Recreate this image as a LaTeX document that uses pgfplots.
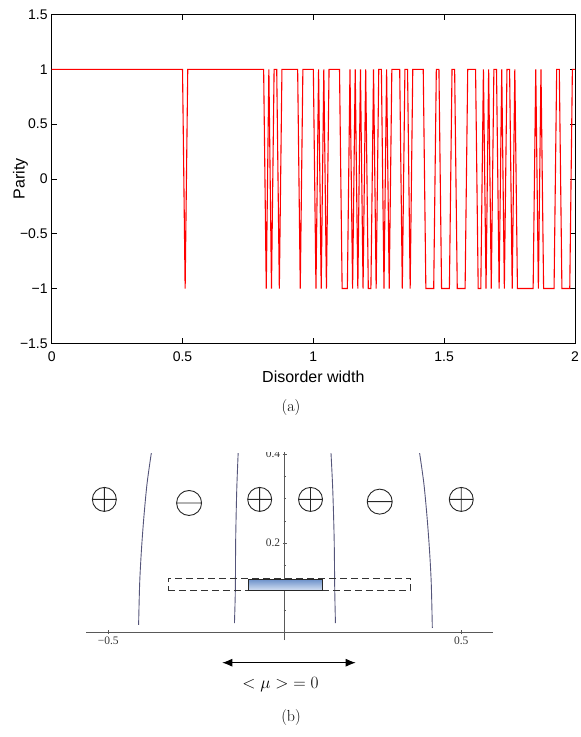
\documentclass[border=0pt]{standalone}
\usepackage{fontspec}
\usepackage{pgfplots}
\pgfplotsset{compat=1.18}
\usetikzlibrary{arrows.meta,plotmarks}
\newfontfamily\arial{Liberation Sans}
\newfontfamily\tms{Liberation Serif}
\definecolor{curve}{HTML}{55557A}
\definecolor{boxtop}{HTML}{6F93CB}
\definecolor{boxbot}{HTML}{D3E0F2}
% circle with a horizontal bar (no stock mark for it)
\pgfdeclareplotmark{ominus}{%
  \pgfpathcircle{\pgfpointorigin}{\pgfplotmarksize}%
  \pgfpathmoveto{\pgfqpoint{-\pgfplotmarksize}{0pt}}%
  \pgfpathlineto{\pgfqpoint{\pgfplotmarksize}{0pt}}%
  \pgfusepathqstroke}
\begin{document}
\begin{tikzpicture}
\useasboundingbox (0,0) rectangle (581pt,-737pt);
% ---------- (a) parity vs disorder width ----------
\begin{axis}[at={(51.7pt,-343.3pt)}, anchor=south west, scale only axis,
  width=523.3pt, height=328.8pt,
  xmin=0, xmax=2, ymin=-1.5, ymax=1.5,
  xtick={0,0.5,1,1.5,2}, xticklabels={0,0.5,1,1.5,2},
  ytick={-1.5,-1,-0.5,0,0.5,1,1.5}, yticklabels={−1.5,−1,−0.5,0,0.5,1,1.5},
  tick align=inside, major tick length=5pt, tick style={black, line width=0.6pt},
  axis line style={black, line width=0.8pt},
  ticklabel style={font=\arial\fontsize{14}{16}\selectfont},
  xticklabel style={yshift=-5pt}, yticklabel style={xshift=-0.5pt},
  xlabel={Disorder width}, ylabel={Parity},
  label style={font=\arial\fontsize{16}{18}\selectfont},
  xlabel style={at={(axis description cs:0.5,-0.1025)}, anchor=center},
  ylabel style={at={(axis description cs:-0.0596,0.5)}, anchor=center}]
\addplot[red, line width=1.1pt] coordinates {
(0,1) (0.50,1) (0.51,-1) (0.52,1) (0.81,1) (0.82,-1) (0.83,1) (0.84,-1) (0.85,1) (0.86,1)
(0.87,-1) (0.88,1) (0.94,1) (0.95,-1) (0.96,1) (1.00,1) (1.01,-1) (1.02,1) (1.03,-1) (1.04,1)
(1.05,-1) (1.06,1) (1.10,1) (1.11,-1) (1.13,-1) (1.14,1) (1.15,-1) (1.16,1) (1.17,-1) (1.18,1)
(1.19,-1) (1.20,1) (1.21,-1) (1.22,-1) (1.23,1) (1.24,-1) (1.25,1) (1.26,1) (1.27,-1) (1.28,1)
(1.29,-1) (1.30,1) (1.33,1) (1.34,-1) (1.35,1) (1.36,1) (1.37,-1) (1.38,1) (1.42,1) (1.43,-1)
(1.46,-1) (1.47,1) (1.48,1) (1.49,-1) (1.52,-1) (1.53,1) (1.54,1) (1.55,-1) (1.58,-1) (1.59,1)
(1.62,1) (1.63,-1) (1.64,-1) (1.65,1) (1.66,-1) (1.67,1) (1.68,-1) (1.69,1) (1.70,1) (1.71,-1)
(1.72,1) (1.73,-1) (1.74,1) (1.75,1) (1.76,-1) (1.77,1) (1.78,-1) (1.84,-1) (1.85,1) (1.86,-1)
(1.87,1) (1.88,-1) (1.92,-1) (1.93,1) (1.94,1) (1.95,-1) (1.98,-1) (1.99,1) (2.00,1)};
\end{axis}
\node[font=\fontsize{16}{18}\selectfont] at (291pt,-408pt) {(a)};
% ---------- (b) sketch ----------
\begin{scope}
\clip (0,-452pt) rectangle (581pt,-737pt);
\begin{axis}[at={(86pt,-640pt)}, anchor=south west, scale only axis,
  width=407.4pt, height=188.2pt,
  xmin=-0.563, xmax=0.591, ymin=-0.018, ymax=0.405,
  axis lines=middle, axis line style={-, draw=black!65, line width=0.7pt},
  xtick={-0.5,0.5}, xticklabels={−0.5,0.5},
  ytick={0.2,0.4}, yticklabels={0.2,0.4},
  minor ytick={0.05,0.1,0.15,0.25,0.3,0.35},
  major tick length=4pt, minor tick length=2.5pt,
  tick style={black!65, line width=0.5pt},
  ticklabel style={font=\tms\fontsize{11.5}{13}\selectfont, black!80},
  xticklabel style={yshift=1pt}, yticklabel style={xshift=1pt},
  clip=false]
\addplot[curve, line width=0.9pt, smooth] coordinates {
(-0.378,0.402) (-0.390,0.334) (-0.399,0.259) (-0.406,0.184) (-0.411,0.109) (-0.414,0.016)};
\addplot[curve, line width=0.9pt, smooth] coordinates {
(-0.132,0.402) (-0.136,0.319) (-0.139,0.207) (-0.140,0.094) (-0.1425,0.020)};
\addplot[curve, line width=0.9pt, smooth] coordinates {
(0.131,0.402) (0.136,0.319) (0.140,0.207) (0.1416,0.094) (0.1436,0.020)};
\addplot[curve, line width=0.9pt, smooth] coordinates {
(0.382,0.402) (0.394,0.334) (0.403,0.259) (0.410,0.184) (0.415,0.109) (0.418,0.009)};
\addplot[only marks, mark=oplus, mark size=12pt, mark options={black!85, line width=0.9pt}]
  coordinates {(-0.511,0.298) (-0.071,0.298) (0.073,0.298) (0.500,0.298)};
\addplot[only marks, mark=ominus, mark size=12.5pt, mark options={black!85, line width=0.9pt}]
  coordinates {(-0.271,0.290) (0.269,0.293)};
\addplot[black!80, line width=0.8pt, dash pattern=on 7pt off 4pt] coordinates {
(-0.331,0.094) (0.357,0.094) (0.357,0.121) (-0.331,0.121)} -- cycle;
\draw[draw=black!85, line width=0.7pt, top color=boxtop, bottom color=boxbot]
  (axis cs:-0.104,0.094) rectangle (axis cs:0.106,0.118);
\draw[{Latex[length=10pt,width=8pt]}-{Latex[length=10pt,width=8pt]}, line width=0.9pt]
  (axis cs:-0.177,-0.069) -- (axis cs:0.201,-0.069);
\node[font=\fontsize{16}{18}\selectfont] at (axis cs:-0.012,-0.119) {$<\mu>\;=0$};
\end{axis}
\end{scope}
\node[font=\fontsize{16}{18}\selectfont] at (291pt,-717pt) {(b)};
\end{tikzpicture}
\end{document}
